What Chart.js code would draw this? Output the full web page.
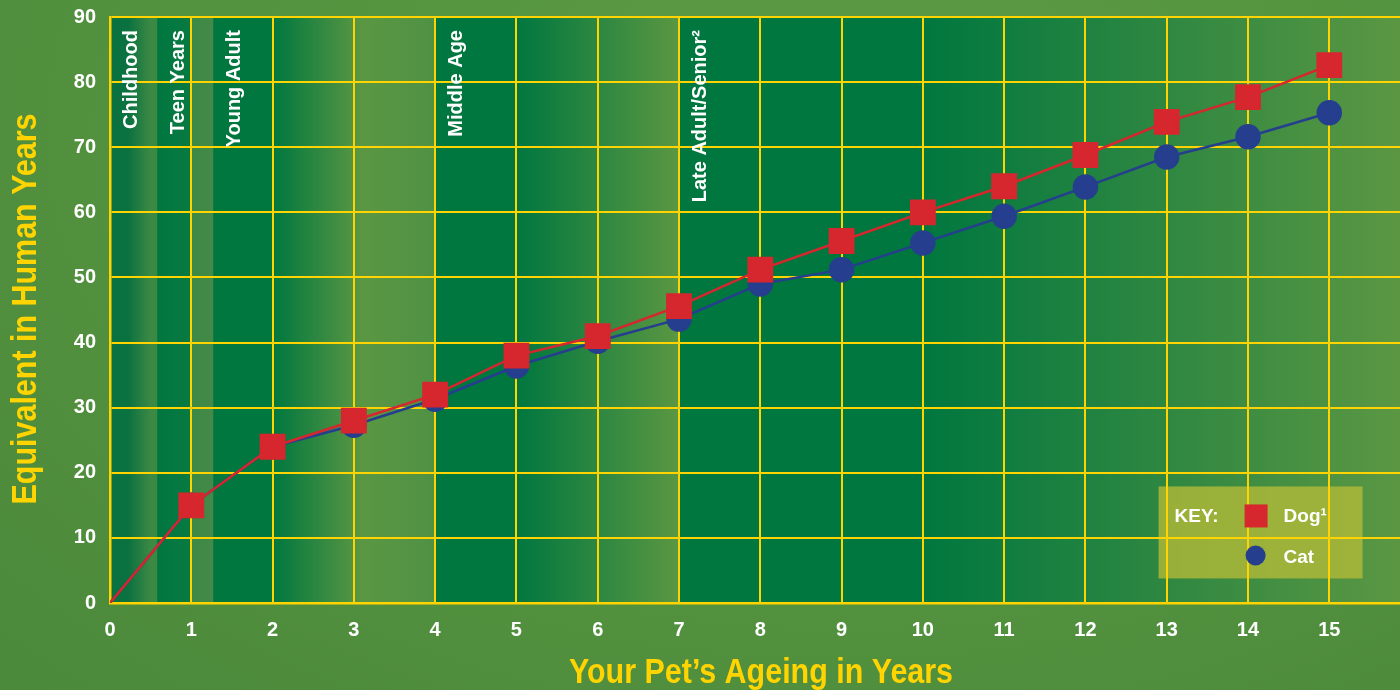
<!DOCTYPE html>
<html>
<head>
<meta charset="utf-8">
<script src="https://cdn.jsdelivr.net/npm/chart.js@4.4.1/dist/chart.umd.min.js"></script>
<style>
  html, body { margin: 0; padding: 0; overflow: hidden; }
  body {
    width: 1400px; height: 690px;
    background: radial-gradient(ellipse at 60% 20%, #5e9b47 0%, #55943f 45%, #4b893b 100%);
  }
  #wrap { position: relative; width: 1400px; height: 690px; }
</style>
</head>
<body>
<div id="wrap"><canvas id="ageChart"></canvas></div>
<script>
// pet age (years) and equivalent human years
const ages = [0, 1, 2, 3, 4, 5, 6, 7, 8, 9, 10, 11, 12, 13, 14, 15];
const dogYears = [0, 15, 24, 28, 32, 38, 41, 45.6, 51.2, 55.6, 60, 64, 68.8, 73.9, 77.7, 82.6];
const catYears = [0, 15, 24, 27.3, 31.3, 36.4, 40.2, 43.6, 49, 51.2, 55.3, 59.4, 63.9, 68.5, 71.6, 75.3];
const xTicks = [0, 1, 2, 3, 4, 5, 6, 7, 8, 9, 10, 11, 12, 13, 14, 15];
const yTicks = [0, 10, 20, 30, 40, 50, 60, 70, 80, 90];
const xTitle = 'Your Pet\u2019s Ageing in Years';
const yTitle = 'Equivalent in Human Years';

// life stages and where they begin on the age axis
const stageLabels = ['Childhood', 'Teen Years', 'Young Adult', 'Middle Age', 'Late Adult/Senior\u00B2'];
const stageStarts = [0, 0.58, 1.27, 4, 7];

const DARK = '#00773f';
const MID = '#3c8944';
const LIGHT = '#5b9743';
const YELLOW = '#ffd400';
const RED = '#d6262e';
const BLUE = '#253e8e';
const TITLE_FONT = 'bold 35px "Liberation Sans", Arial, sans-serif';

const toPoints = (ys) => ages.map((a, i) => ({ x: a, y: ys[i] }));

// background shading strips: [fromAge, toAge, colourStart, colourEnd]
const shading = [
  [0, 0.22, '#0a7140', '#0a7140'],
  [0.22, 0.5, '#0a7140', MID],
  [0.5, 0.58, MID, MID],
  [0.58, 1.0, DARK, '#087a42'],
  [1.0, 1.27, MID, '#44894a'],
  [1.27, 2, DARK, DARK],
  [2, 3.1, DARK, LIGHT],
  [3.1, 4, LIGHT, '#4f9144'],
  [4, 5, DARK, DARK],
  [5, 7, DARK, '#5a9742'],
  [7, 10, DARK, DARK],
  [10, 16, DARK, LIGHT]
];

// condensed text: the original uses a narrow face we don't have
function narrowText(ctx, text, x, y, squeeze) {
  ctx.save();
  ctx.translate(x, y);
  ctx.scale(squeeze, 1);
  ctx.fillText(text, 0, 0);
  ctx.restore();
}

const backdrop = {
  id: 'backdrop',
  beforeDraw(chart) {
    const { ctx, chartArea: a, scales: { x, y } } = chart;
    ctx.save();
    shading.forEach(([f, t, c0, c1]) => {
      const x0 = x.getPixelForValue(f);
      const x1 = Math.min(x.getPixelForValue(t), a.right);
      const g = ctx.createLinearGradient(x0, 0, x1, 0);
      g.addColorStop(0, c0);
      g.addColorStop(1, c1);
      ctx.fillStyle = g;
      ctx.fillRect(x0, a.top, x1 - x0 + 0.5, a.bottom - a.top);
    });
    // key box sits behind the grid
    ctx.fillStyle = 'rgba(176, 186, 56, 0.82)';
    ctx.fillRect(x.getPixelForValue(12.9), y.getPixelForValue(17.9), 204, 92);
    ctx.restore();
  },
  afterDraw(chart) {
    const { ctx, scales: { x, y } } = chart;
    ctx.save();
    ctx.fillStyle = '#ffffff';
    ctx.font = 'bold 20px "Liberation Sans", Arial, sans-serif';
    ctx.textAlign = 'right';
    ctx.textBaseline = 'middle';
    stageLabels.forEach((lab, i) => {
      const cx = x.getPixelForValue(stageStarts[i]) + 21;
      ctx.save();
      ctx.translate(cx, y.getPixelForValue(88.0));
      ctx.rotate(-Math.PI / 2);
      ctx.fillText(lab, 0, 0);
      ctx.restore();
    });

    // key
    const kx = x.getPixelForValue(12.9);
    const ky = y.getPixelForValue(17.9);
    ctx.textAlign = 'left';
    ctx.font = 'bold 19px "Liberation Sans", Arial, sans-serif';
    ctx.fillText('KEY:', kx + 16, ky + 30);
    ctx.fillText('Dog\u00B9', kx + 125, ky + 30);
    ctx.fillText('Cat', kx + 125, ky + 71);
    ctx.fillStyle = RED;
    ctx.fillRect(kx + 86, ky + 18, 23, 23);
    ctx.fillStyle = BLUE;
    ctx.beginPath();
    ctx.arc(kx + 97, ky + 69, 10, 0, Math.PI * 2);
    ctx.fill();

    // axis titles
    ctx.fillStyle = YELLOW;
    ctx.font = TITLE_FONT;
    ctx.textAlign = 'center';
    narrowText(ctx, xTitle, 761, 673, 0.87);
    ctx.save();
    ctx.translate(26, 309);
    ctx.rotate(-Math.PI / 2);
    narrowText(ctx, yTitle, 0, 0, 0.87);
    ctx.restore();
    ctx.restore();
  }
};

new Chart(document.getElementById('ageChart'), {
  type: 'line',
  data: {
    datasets: [
      {
        label: 'Dog\u00B9',
        data: toPoints(dogYears),
        borderColor: RED,
        backgroundColor: RED,
        borderWidth: 2.5,
        pointStyle: 'rect',
        pointRadius: ages.map(a => a === 0 ? 0 : 16.5),
        pointHoverRadius: 16.5,
        tension: 0
      },
      {
        label: 'Cat',
        data: toPoints(catYears),
        borderColor: BLUE,
        backgroundColor: BLUE,
        borderWidth: 2.5,
        pointStyle: 'circle',
        pointRadius: ages.map(a => a === 0 ? 0 : 11.5),
        pointHoverRadius: 11.5,
        tension: 0
      }
    ]
  },
  options: {
    responsive: true,
    maintainAspectRatio: false,
    animation: false,
    layout: { autoPadding: false, padding: { top: 17, right: 0, left: 0, bottom: 0 } },
    plugins: {
      legend: { display: false },
      tooltip: { enabled: false }
    },
    scales: {
      x: {
        type: 'linear',
        min: 0,
        max: 15.87,
        afterBuildTicks: (s) => { s.ticks = xTicks.map(v => ({ value: v })); },
        afterFit: (s) => { s.height = 87; s.paddingLeft = 0; s.paddingRight = 0; },
        grid: { color: YELLOW, lineWidth: 2, drawTicks: false },
        border: { color: YELLOW, width: 2.5 },
        ticks: {
          color: '#ffffff',
          padding: 15,
          maxRotation: 0,
          font: { family: '"Liberation Sans", Arial, sans-serif', size: 20, weight: 'bold' }
        }
      },
      y: {
        min: 0,
        max: 90,
        afterBuildTicks: (s) => { s.ticks = yTicks.map(v => ({ value: v })); },
        afterFit: (s) => { s.width = 110; s.paddingTop = 0; s.paddingBottom = 0; },
        grid: { color: YELLOW, lineWidth: 2, drawTicks: false },
        border: { color: YELLOW, width: 2.5 },
        ticks: {
          color: '#ffffff',
          padding: 14,
          font: { family: '"Liberation Sans", Arial, sans-serif', size: 20, weight: 'bold' }
        }
      }
    }
  },
  plugins: [backdrop]
});
</script>
</body>
</html>
